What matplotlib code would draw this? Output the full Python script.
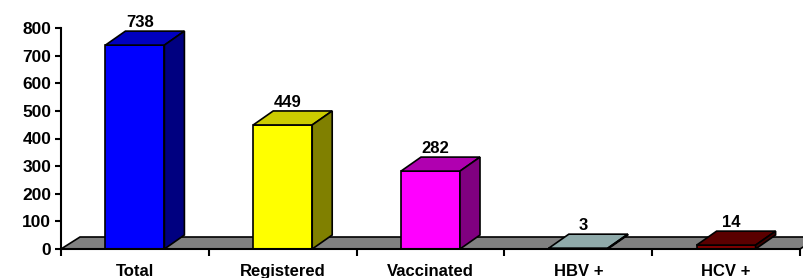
import matplotlib
matplotlib.use('Agg')

import matplotlib.pyplot as plt
from matplotlib.patches import Polygon, Rectangle

categories = ["Total", "Registered", "Vaccinated", "HBV +", "HCV +"]
values = [738, 449, 282, 3, 14]
front_colors = ["#0000FF", "#FFFF00", "#FF00FF", "#A6C4C4", "#800000"]
top_colors = ["#0000C0", "#CCCC00", "#B000B0", "#8FAAAA", "#5A0000"]
side_colors = ["#000080", "#808000", "#800080", "#6A8282", "#400000"]
y_ticks = [0, 100, 200, 300, 400, 500, 600, 700, 800]

plt.rcParams['font.family'] = ['Liberation Sans', 'DejaVu Sans']
plt.rcParams['font.weight'] = 'bold'

W, H = 804, 278
fig = plt.figure(figsize=(W / 100, H / 100), dpi=100)
ax_l, ax_r, ax_b, ax_t = 61, 800, 249, 28
ax = fig.add_axes([ax_l / W, (H - ax_b) / H, (ax_r - ax_l) / W, (ax_b - ax_t) / H])

ax.set_xlim(-0.5, len(categories) - 0.5)
ax.set_ylim(0, 800)

# pixel -> data conversions for the fake 3d depth
px_x = (len(categories)) / (ax_r - ax_l)
px_y = 800 / (ax_b - ax_t)
bar_dx, bar_dy = 20 * px_x, 14 * px_y
floor_dx, floor_dy = 19 * px_x, 12 * px_y
half = 0.5 * 59 * px_x

# floor
x0, x1 = -0.5, len(categories) - 0.5
ax.add_patch(Polygon([(x0, 0), (x1, 0), (x1 + floor_dx, floor_dy), (x0 + floor_dx, floor_dy)],
                     closed=True, facecolor="#808080", edgecolor="black", lw=1.2,
                     clip_on=False, zorder=1))

for i, v in enumerate(values):
    l, r = i - half, i + half
    ax.add_patch(Rectangle((l, 0), r - l, v, facecolor=front_colors[i], edgecolor="black",
                           lw=1.2, clip_on=False, zorder=3))
    ax.add_patch(Polygon([(l, v), (r, v), (r + bar_dx, v + bar_dy), (l + bar_dx, v + bar_dy)],
                         closed=True, facecolor=top_colors[i], edgecolor="black", lw=1.2,
                         clip_on=False, zorder=3))
    ax.add_patch(Polygon([(r, 0), (r + bar_dx, bar_dy), (r + bar_dx, v + bar_dy), (r, v)],
                         closed=True, facecolor=side_colors[i], edgecolor="black", lw=1.2,
                         clip_on=False, zorder=3))
    ax.text(i + bar_dx * 0.25, v + bar_dy + 1 * px_y, str(v), ha="center", va="bottom",
            fontsize=12, fontweight="bold", zorder=4)

for s in ["top", "right"]:
    ax.spines[s].set_visible(False)
for s in ["left", "bottom"]:
    ax.spines[s].set_linewidth(1.5)
    ax.spines[s].set_zorder(5)

ax.set_yticks(y_ticks)
ax.set_yticklabels([str(t) for t in y_ticks], fontsize=12.5, fontweight="bold")
ax.tick_params(axis="y", direction="out", length=4, width=1.5, pad=3)

ax.set_xticks(range(len(categories)))
ax.set_xticklabels(categories, fontsize=12, fontweight="bold")
ax.set_xticks([k - 0.5 for k in range(len(categories) + 1)], minor=True)
ax.tick_params(axis="x", which="major", length=0, pad=10.5)
ax.tick_params(axis="x", which="minor", direction="out", length=5, width=1.5)

fig.savefig("out.png", dpi=100)
